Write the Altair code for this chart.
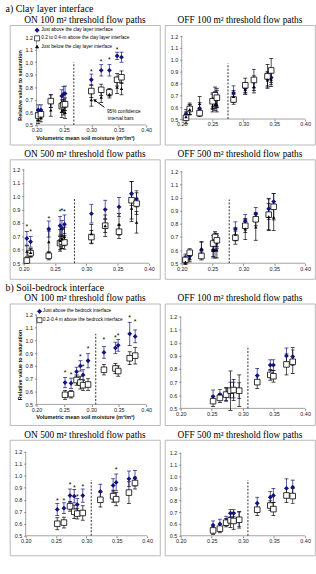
import altair as alt
import pandas as pd

SERIF = "Liberation Serif"
SANS = "Liberation Sans"
NAVY = "#12127e"

# ---------------- text ----------------
SECTION_A = "a) Clay layer interface"
SECTION_B = "b) Soil-bedrock interface"
TITLES = ["ON 100 m² threshold flow paths", "OFF 100 m² threshold flow paths",
          "ON 500 m² threshold flow paths", "OFF 500 m² threshold flow paths"]
XTITLE = "Volumetric mean soil moisture (m³/m³)"
YTITLE = "Relative value to saturation"
LEGEND_A = ["Just above the clay layer interface",
            "0.2 to 0.4-m above the clay layer interface",
            "Just below the clay layer interface"]
LEGEND_B = ["Just above the bedrock interface",
            "0.2-0.4 m above the bedrock interface"]
NOTE = ["95% confidence", "interval bars"]

XTICKS = [0.20, 0.25, 0.30, 0.35, 0.40]
YTICKS = [0.5, 0.6, 0.7, 0.8, 0.9, 1.0, 1.1, 1.2]

# ---------------- a) clay layer interface ----------------
A1_X = [0.203, 0.208, 0.226, 0.246, 0.249, 0.252, 0.300, 0.318, 0.333, 0.347, 0.355]
A1_ABOVE = [0.62, 0.62, 0.69, 0.73, 0.745, 0.75, 0.86, 0.935, 0.935, 1.05, 1.04]
A1_ABOVE_E = [0.04, 0.04, 0.05, 0.05, 0.06, 0.06, 0.045, 0.045, 0.045, 0.03, 0.04]
A1_MID = [0.575, 0.585, 0.69, 0.65, 0.66, 0.665, 0.77, 0.78, 0.76, 0.86, 0.88]
A1_MID_E = [0.04, 0.03, 0.05, 0.05, 0.04, 0.05, 0.05, 0.045, 0.03, 0.05, 0.05]
A1_BELOW = [0.54, 0.555, 0.62, 0.61, 0.62, 0.60, 0.70, 0.72, 0.745, 0.80, 0.79]
A1_BELOW_E = [0.03, 0.03, 0.05, 0.05, 0.04, 0.05, 0.05, 0.04, 0.03, 0.05, 0.05]
A1_STARS = [None, None, None, None, None, None, 0.92, 1.0, 1.02, 1.1, None]
A1_DASH = 0.268

A2_X = [0.207, 0.213, 0.229, 0.250, 0.254, 0.257, 0.284, 0.303, 0.317, 0.339, 0.345]
A2_ABOVE = [0.54, 0.58, 0.59, 0.65, 0.66, 0.67, 0.72, 0.76, 0.815, 0.84, 0.85]
A2_ABOVE_E = [0.04, 0.04, 0.05, 0.07, 0.07, 0.07, 0.06, 0.05, 0.05, 0.06, 0.06]
A2_MID = [0.51, 0.585, 0.55, 0.65, 0.70, 0.68, 0.665, 0.785, 0.83, 0.86, 0.91]
A2_MID_E = [0.05, 0.05, 0.03, 0.06, 0.07, 0.08, 0.04, 0.06, 0.09, 0.10, 0.10]
A2_BELOW = [0.52, 0.58, 0.63, 0.61, 0.62, 0.62, 0.69, 0.75, 0.77, 0.83, 0.835]
A2_BELOW_E = [0.03, 0.04, 0.06, 0.05, 0.05, 0.06, 0.05, 0.04, 0.05, 0.06, 0.06]
A2_DASH = 0.275

A3_X = [0.205, 0.211, 0.240, 0.258, 0.261, 0.265, 0.308, 0.330, 0.352, 0.372, 0.380]
A3_ABOVE = [0.685, 0.66, 0.755, 0.78, 0.76, 0.79, 0.87, 0.90, 0.92, 1.02, 0.98]
A3_ABOVE_E = [0.05, 0.04, 0.06, 0.07, 0.06, 0.07, 0.07, 0.07, 0.07, 0.09, 0.06]
A3_MID = [0.52, 0.575, 0.555, 0.65, 0.66, 0.655, 0.695, 0.78, 0.735, 0.97, 0.945]
A3_MID_E = [0.02, 0.03, 0.03, 0.05, 0.05, 0.05, 0.05, 0.05, 0.05, 0.14, 0.08]
A3_BELOW = [0.59, 0.58, 0.66, 0.67, 0.68, 0.70, 0.72, 0.78, 0.79, 0.91, 0.805]
A3_BELOW_E = [0.04, 0.03, 0.08, 0.08, 0.07, 0.07, 0.07, 0.08, 0.08, 0.10, 0.08]
A3_STARS = [0.77, 0.73, 0.83, 0.88, 0.89, 0.88, None, None, None, None, None]
A3_DASH = 0.281

A4_X = [0.206, 0.213, 0.232, 0.251, 0.254, 0.257, 0.287, 0.303, 0.320, 0.341, 0.349]
A4_ABOVE = [0.54, 0.555, 0.60, 0.60, 0.68, 0.66, 0.76, 0.82, 0.875, 0.915, 0.97]
A4_ABOVE_E = [0.03, 0.03, 0.06, 0.06, 0.05, 0.05, 0.055, 0.05, 0.05, 0.08, 0.06]
A4_MID = [0.525, 0.58, 0.555, 0.65, 0.70, 0.675, 0.695, 0.785, 0.835, 0.87, 0.93]
A4_MID_E = [0.03, 0.03, 0.03, 0.06, 0.04, 0.05, 0.05, 0.05, 0.05, 0.12, 0.10]
A4_BELOW = [0.51, 0.54, 0.615, 0.60, 0.60, 0.60, 0.72, 0.76, 0.775, 0.855, 0.85]
A4_BELOW_E = [0.02, 0.03, 0.05, 0.05, 0.06, 0.06, 0.05, 0.08, 0.10, 0.10, 0.10]
A4_DASH = 0.277

# ---------------- b) soil-bedrock interface ----------------
B_X = [0.252, 0.263, 0.273, 0.280, 0.285, 0.294, 0.323, 0.344, 0.349, 0.370, 0.380]
B_DASH = 0.308

B1_ABOVE = [0.67, 0.665, 0.755, 0.80, 0.73, 0.84, 0.905, 0.94, 0.96, 1.05, 1.03]
B1_ABOVE_E = [0.04, 0.04, 0.035, 0.04, 0.04, 0.055, 0.045, 0.045, 0.045, 0.09, 0.05]
B1_MID = [0.575, 0.58, 0.69, 0.67, 0.65, 0.655, 0.77, 0.78, 0.76, 0.86, 0.88]
B1_MID_E = [0.035, 0.03, 0.04, 0.05, 0.04, 0.045, 0.04, 0.04, 0.04, 0.05, 0.065]
B1_STARS = [0.745, 0.73, None, 0.87, 0.79, 0.93, 1.0, 1.02, 1.03, 1.17, 1.14]

B2_ABOVE = [0.59, 0.605, 0.61, 0.64, 0.64, 0.635, 0.75, 0.83, 0.83, 0.90, 0.895]
B2_ABOVE_E = [0.05, 0.04, 0.05, 0.06, 0.06, 0.06, 0.055, 0.04, 0.04, 0.06, 0.07]
B2_MID = [0.555, 0.58, 0.605, 0.635, 0.64, 0.635, 0.70, 0.755, 0.745, 0.835, 0.855]
B2_MID_E = [0.04, 0.035, 0.05, 0.15, 0.08, 0.12, 0.05, 0.04, 0.045, 0.08, 0.09]

B3_ABOVE = [0.72, 0.73, 0.835, 0.83, 0.76, 0.835, 0.87, 0.92, 0.945, 0.975, 0.98]
B3_ABOVE_E = [0.05, 0.045, 0.055, 0.055, 0.05, 0.055, 0.06, 0.055, 0.07, 0.065, 0.065]
B3_MID = [0.60, 0.61, 0.745, 0.70, 0.685, 0.69, 0.80, 0.83, 0.805, 0.86, 0.94]
B3_MID_E = [0.05, 0.045, 0.04, 0.055, 0.045, 0.06, 0.06, 0.05, 0.055, 0.09, 0.05]
B3_STARS = [0.79, 0.79, 0.92, 0.90, 0.82, 0.91, None, None, 1.05, None, None]

B4_ABOVE = [0.59, 0.60, 0.625, 0.69, 0.69, 0.64, 0.775, 0.825, 0.84, 0.90, 0.91]
B4_ABOVE_E = [0.035, 0.04, 0.04, 0.03, 0.03, 0.06, 0.05, 0.05, 0.06, 0.08, 0.06]
B4_MID = [0.545, 0.56, 0.61, 0.63, 0.625, 0.635, 0.72, 0.755, 0.725, 0.84, 0.835]
B4_MID_E = [0.035, 0.035, 0.035, 0.06, 0.07, 0.07, 0.05, 0.04, 0.055, 0.06, 0.065]


def series_df(x, y, e):
    return pd.DataFrame({"x": x, "y": y,
                         "lo": [v - d for v, d in zip(y, e)],
                         "hi": [v + d for v, d in zip(y, e)]})


def panel(title, x, above, above_e, mid, mid_e, below=None, below_e=None,
          stars=None, dash=0.27, dash_top=0.98, geom=(152, 121, 20, 142, 12, 100),
          titles=False, legend=None, legend_pos=None, note=False):
    W, H, a, b, c, d = geom
    kx = (XTICKS[-1] - XTICKS[0]) / (b - a)
    xdom = [XTICKS[0] - a * kx, XTICKS[0] + (W - a) * kx]
    ky = (YTICKS[-1] - YTICKS[0]) / (d - c)
    ydom = [YTICKS[0] - (H - d) * ky, YTICKS[-1] + c * ky]
    xscale = alt.Scale(domain=xdom, nice=False, zero=False)
    yscale = alt.Scale(domain=ydom, nice=False, zero=False)
    xaxis = alt.Axis(values=XTICKS, format=".2f", domain=False, grid=False,
                     offset=-(H - d), labelFont=SANS, labelFontSize=5.5,
                     labelColor="#222", tickColor="#888", tickSize=2,
                     labelPadding=1, labelFlush=False, title=XTITLE if titles else None,
                     titleFont=SANS, titleFontSize=5.5, titleFontWeight="bold",
                     titlePadding=2, titleColor="#111")
    yaxis = alt.Axis(values=YTICKS, format=".1f", domain=False, grid=False,
                     offset=-a, labelFont=SANS, labelFontSize=5.5,
                     labelColor="#222", tickColor="#888", tickSize=2,
                     labelPadding=2, labelFlush=False, title=YTITLE if titles else None,
                     titleFont=SANS, titleFontSize=5.5, titleFontWeight="bold",
                     titlePadding=3, titleColor="#111")

    def X(f):
        return alt.X(f, type="quantitative", scale=xscale, axis=xaxis, title=XTITLE if titles else None)

    def Y(f):
        return alt.Y(f, type="quantitative", scale=yscale, axis=yaxis, title=YTITLE if titles else None)

    axes_df = pd.DataFrame({"x": [XTICKS[0], XTICKS[0]], "x2": [XTICKS[-1], XTICKS[0]],
                            "y": [YTICKS[0], YTICKS[0]], "y2": [YTICKS[0], YTICKS[-1]]})
    layers = [alt.Chart(axes_df).mark_rule(color="#8c8c8c", strokeWidth=0.8).encode(
        x=X("x"), y=Y("y"), x2="x2", y2="y2")]
    dash_df = pd.DataFrame({"x": [dash], "y": [YTICKS[0]], "y2": [dash_top]})
    layers.append(alt.Chart(dash_df).mark_rule(color="#444", strokeWidth=1.1,
                                               strokeDash=[2, 1.5]).encode(
        x=X("x"), y=Y("y"), y2="y2"))

    groups = [(series_df(x, above, above_e), NAVY)]
    groups.append((series_df(x, mid, mid_e), "black"))
    if below is not None:
        groups.append((series_df(x, below, below_e), "black"))
    for df, col in groups:
        layers.append(alt.Chart(df).mark_rule(color=col, strokeWidth=0.7).encode(
            x=X("x"), y=Y("lo"), y2="hi"))
        for f in ("lo", "hi"):
            layers.append(alt.Chart(df).mark_tick(color=col, orient="horizontal",
                                                  size=4, thickness=0.7, opacity=1).encode(
                x=X("x"), y=Y(f)))
    adf = groups[0][0]
    mdf = groups[1][0]
    layers.append(alt.Chart(adf).mark_point(shape="diamond", filled=True, color=NAVY,
                                            size=24, opacity=1).encode(x=X("x"), y=Y("y")))
    layers.append(alt.Chart(mdf).mark_point(shape="square", filled=True, fill="white",
                                            stroke="black", strokeWidth=0.8, size=32,
                                            opacity=1).encode(x=X("x"), y=Y("y")))
    if below is not None:
        bdf = groups[2][0]
        layers.append(alt.Chart(bdf).mark_point(shape="triangle-up", filled=True,
                                                color="black", size=12, opacity=1).encode(
            x=X("x"), y=Y("y")))
    if stars is not None:
        sdf = pd.DataFrame({"x": [xv for xv, s in zip(x, stars) if s is not None],
                            "y": [s for s in stars if s is not None]})
        layers.append(alt.Chart(sdf).mark_text(text="*", font=SANS, fontSize=7,
                                               color="black", baseline="middle").encode(
            x=X("x"), y=Y("y")))
    if legend is not None:
        mx, tx, ys = legend_pos
        shapes = [("diamond", NAVY, NAVY, 20), ("square", "white", "black", 26),
                  ("triangle-up", "black", "black", 10)]
        for i, lab in enumerate(legend):
            shp, fillc, strokec, sz = shapes[i]
            layers.append(alt.Chart(pd.DataFrame({"x": [mx], "y": [ys[i]]})).mark_point(
                shape=shp, filled=True, fill=fillc, stroke=strokec, strokeWidth=0.7,
                size=sz, opacity=1).encode(x=X("x"), y=Y("y")))
        ldf = pd.DataFrame({"x": [tx] * len(legend), "y": ys[:len(legend)], "t": legend})
        layers.append(alt.Chart(ldf).mark_text(align="left", baseline="middle", font=SANS,
                                               fontSize=4.8, color="black").encode(
            x=X("x"), y=Y("y"), text="t:N"))
    if note:
        ndf = pd.DataFrame({"x": [0.3285, 0.330], "y": [0.607, 0.545], "t": NOTE})
        layers.append(alt.Chart(ndf).mark_text(align="left", baseline="middle", font=SANS,
                                               fontSize=4.8, color="black").encode(
            x=X("x"), y=Y("y"), text="t:N"))
        adf2 = pd.DataFrame({"x": [0.3237], "y": [0.641], "x2": [0.3058], "y2": [0.698]})
        layers.append(alt.Chart(adf2).mark_rule(color="black", strokeWidth=1).encode(
            x=X("x"), y=Y("y"), x2="x2", y2="y2"))
        layers.append(alt.Chart(pd.DataFrame({"x": [0.3058], "y": [0.698]})).mark_point(
            shape="triangle-up", filled=True, color="black", size=14, angle=297,
            opacity=1).encode(x=X("x"), y=Y("y")))

    return alt.layer(*layers).properties(
        width=W, height=H,
        title=alt.TitleParams(title, font=SERIF, fontSize=9.5, fontWeight="normal",
                              color="black", anchor="middle", offset=1))


p1 = panel(TITLES[0], A1_X, A1_ABOVE, A1_ABOVE_E, A1_MID, A1_MID_E, A1_BELOW, A1_BELOW_E,
           stars=A1_STARS, dash=A1_DASH, dash_top=1.0, geom=(152, 121, 27, 138, 12, 101),
           titles=True, legend=LEGEND_A,
           legend_pos=(0.201, 0.2085, [1.255, 1.19, 1.124]), note=True)
p2 = panel(TITLES[1], A2_X, A2_ABOVE, A2_ABOVE_E, A2_MID, A2_MID_E, A2_BELOW, A2_BELOW_E,
           dash=A2_DASH, dash_top=0.97, geom=(152, 121, 17, 142, 11, 95))
p3 = panel(TITLES[2], A3_X, A3_ABOVE, A3_ABOVE_E, A3_MID, A3_MID_E, A3_BELOW, A3_BELOW_E,
           stars=A3_STARS, dash=A3_DASH, dash_top=0.98, geom=(152, 121, 14, 141, 10, 105))
p4 = panel(TITLES[3], A4_X, A4_ABOVE, A4_ABOVE_E, A4_MID, A4_MID_E, A4_BELOW, A4_BELOW_E,
           dash=A4_DASH, dash_top=0.985, geom=(152, 121, 17, 142, 12, 105))
p5 = panel(TITLES[0], B_X, B1_ABOVE, B1_ABOVE_E, B1_MID, B1_MID_E, stars=B1_STARS,
           dash=B_DASH, dash_top=1.05, geom=(152, 123, 27, 138, 11, 102), titles=True,
           legend=LEGEND_B, legend_pos=(0.2054, 0.2114, [1.225, 1.156]))
p6 = panel(TITLES[1], B_X, B2_ABOVE, B2_ABOVE_E, B2_MID, B2_MID_E,
           dash=B_DASH, dash_top=0.975, geom=(152, 123, 16, 142, 13, 106))
p7 = panel(TITLES[2], B_X, B3_ABOVE, B3_ABOVE_E, B3_MID, B3_MID_E, stars=B3_STARS,
           dash=B_DASH, dash_top=0.966, geom=(152, 117, 16, 139, 12, 97))
p8 = panel(TITLES[3], B_X, B4_ABOVE, B4_ABOVE_E, B4_MID, B4_MID_E,
           dash=B_DASH, dash_top=0.97, geom=(152, 117, 16, 142, 13, 97))


def sec(text):
    return alt.TitleParams(text, font=SERIF, fontSize=10, fontWeight="normal",
                           color="black", anchor="start", dx=-4, offset=0)


row1 = alt.hconcat(p1, p2, spacing=3, title=sec(SECTION_A))
row2 = alt.hconcat(p3, p4, spacing=3)
row3 = alt.hconcat(p5, p6, spacing=3, title=sec(SECTION_B))
row4 = alt.hconcat(p7, p8, spacing=3)

chart = alt.vconcat(row1, row2, row3, row4, spacing=3).properties(
    padding={"left": 5, "top": 1, "right": 0, "bottom": 0},
    background="white",
).configure_view(stroke="#a8a8a8", strokeWidth=0.8)

chart.save("out.html", embed_options={"renderer": "svg", "actions": False})
